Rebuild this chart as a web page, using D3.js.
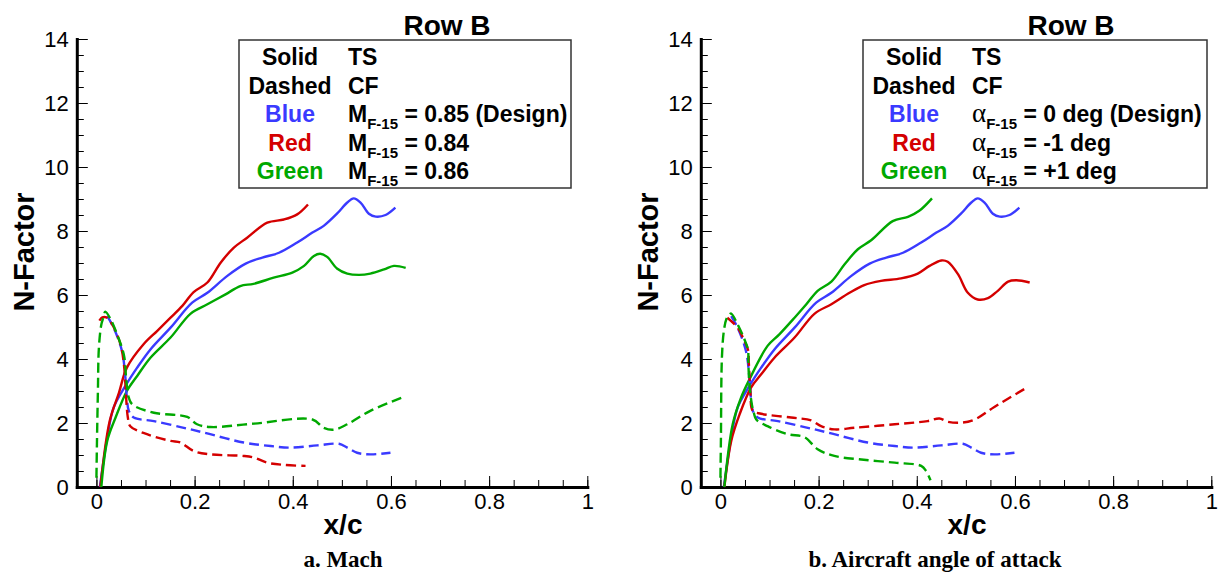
<!DOCTYPE html>
<html>
<head>
<meta charset="utf-8">
<script src="https://cdn.jsdelivr.net/npm/d3@7"></script>
<style>
    body { margin: 0; background: #fff; }
    svg text { font-family: "Liberation Sans", Arial, Helvetica, sans-serif; }
    .axis .domain { stroke: #000; stroke-width: 3; }
    .axis .major line { stroke: #000; stroke-width: 3; }
    .axis .minor line { stroke: #000; stroke-width: 1.5; }
    .axis text { font-size: 22px; fill: #000; }
</style>
</head>
<body>
<div id="chart"></div>
<script>
// tick values
var xMajor = [0, 0.2, 0.4, 0.6, 0.8, 1];
var xLabels = ["0", "0.2", "0.4", "0.6", "0.8", "1"];
var xMinor = d3.range(0, 1.001, 0.05);
var yMajor = [0, 2, 4, 6, 8, 10, 12, 14];
var yMinor = d3.range(0, 14.01, 0.5);

var colors = { blue: "#3a3aff", red: "#d40000", green: "#00a800" };

// design case, shared by both panels: [x/c, N]
var designTS = [[0.007, 0], [0.022, 1.54], [0.035, 2.48], [0.059, 3.16], [0.083, 3.73], [0.11, 4.3],
    [0.151, 4.98], [0.195, 5.76], [0.226, 6.07], [0.266, 6.59], [0.304, 6.98], [0.338, 7.17],
    [0.372, 7.32], [0.409, 7.64], [0.44, 7.95], [0.463, 8.16], [0.49, 8.54], [0.511, 8.89],
    [0.524, 9.02], [0.538, 8.89], [0.555, 8.54], [0.569, 8.45], [0.589, 8.5], [0.609, 8.73]];
var designCF = [[0.022, 5.34], [0.035, 4.98], [0.052, 4.25], [0.059, 3.42], [0.062, 2.79], [0.066, 2.38],
    [0.076, 2.17], [0.117, 2.06], [0.178, 1.85], [0.219, 1.7], [0.3, 1.39], [0.355, 1.28],
    [0.395, 1.23], [0.45, 1.3], [0.494, 1.35], [0.511, 1.23], [0.531, 1.07], [0.558, 1.02], [0.599, 1.07]];

// panel a: Mach 0.84 (red) and 0.86 (green)
var mach084TS = [[0.008, 0], [0.027, 2.06], [0.046, 2.95], [0.062, 3.73], [0.096, 4.46], [0.124, 4.88],
    [0.151, 5.29], [0.175, 5.66], [0.198, 6.09], [0.226, 6.39], [0.253, 7.01], [0.28, 7.48],
    [0.307, 7.79], [0.348, 8.26], [0.382, 8.36], [0.409, 8.52], [0.431, 8.83]];
var mach084CF = [[0.006, 5.2], [0.012, 5.3], [0.02, 5.3], [0.032, 5.08], [0.049, 4.46], [0.056, 3.83], [0.059, 3.21],
    [0.064, 2.17], [0.069, 1.9], [0.103, 1.65], [0.151, 1.44], [0.171, 1.39], [0.198, 1.125],
    [0.232, 1.02], [0.3, 0.97], [0.321, 0.92], [0.348, 0.76], [0.382, 0.69], [0.426, 0.66]];
var mach086TS = [[0.01, 0], [0.022, 1.44], [0.039, 2.17], [0.062, 3.0], [0.083, 3.47], [0.11, 4.04],
    [0.151, 4.67], [0.192, 5.42], [0.226, 5.71], [0.263, 6.02], [0.293, 6.28], [0.32, 6.35],
    [0.361, 6.54], [0.399, 6.7], [0.423, 6.91], [0.443, 7.22], [0.456, 7.29], [0.47, 7.19],
    [0.49, 6.83], [0.511, 6.67], [0.535, 6.63], [0.558, 6.67], [0.586, 6.8], [0.606, 6.91], [0.63, 6.85]];
var mach086CF = [[0, 0.29], [0.001, 1.33], [0.003, 3.0], [0.005, 4.35], [0.01, 5.08], [0.014, 5.29],
    [0.018, 5.48], [0.029, 5.24], [0.042, 4.77], [0.052, 4.35], [0.057, 4.04], [0.061, 3.31],
    [0.066, 2.79], [0.073, 2.58], [0.117, 2.32], [0.185, 2.19], [0.205, 1.96], [0.232, 1.875],
    [0.321, 1.98], [0.44, 2.11], [0.463, 1.85], [0.484, 1.79], [0.511, 1.96], [0.558, 2.38], [0.63, 2.84]];

// panel b: alpha -1 deg (red) and +1 deg (green)
var aoaM1TS = [[0.008, 0], [0.022, 1.44], [0.039, 2.27], [0.062, 3.1], [0.083, 3.52], [0.11, 4.04],
    [0.151, 4.67], [0.192, 5.42], [0.226, 5.71], [0.263, 6.07], [0.293, 6.31], [0.327, 6.44],
    [0.368, 6.52], [0.402, 6.67], [0.426, 6.91], [0.45, 7.08], [0.463, 7.04], [0.484, 6.65],
    [0.504, 6.07], [0.524, 5.86], [0.545, 5.9], [0.565, 6.13], [0.586, 6.42], [0.603, 6.46], [0.63, 6.39]];
var aoaM1CF = [[0.014, 5.29], [0.035, 4.98], [0.049, 4.56], [0.056, 4.3], [0.058, 3.83], [0.061, 3.0],
    [0.066, 2.38], [0.083, 2.29], [0.144, 2.17], [0.185, 2.08], [0.205, 1.9], [0.232, 1.8],
    [0.273, 1.85], [0.355, 1.96], [0.422, 2.06], [0.446, 2.14], [0.463, 2.04], [0.49, 2.01],
    [0.518, 2.11], [0.558, 2.5], [0.62, 3.07]];
var aoaP1TS = [[0.008, 0], [0.025, 1.96], [0.042, 2.79], [0.059, 3.36], [0.096, 4.41], [0.12, 4.77],
    [0.151, 5.29], [0.175, 5.71], [0.198, 6.13], [0.226, 6.42], [0.253, 6.96], [0.28, 7.43],
    [0.307, 7.71], [0.351, 8.31], [0.382, 8.44], [0.405, 8.63], [0.431, 9.02]];
var aoaP1CF = [[0, 0.29], [0.001, 1.5], [0.003, 4.04], [0.007, 4.88], [0.012, 5.24], [0.018, 5.38],
    [0.022, 5.42], [0.035, 5.08], [0.049, 4.61], [0.056, 4.3], [0.057, 3.83], [0.059, 3.21],
    [0.064, 2.58], [0.068, 2.32], [0.073, 2.11], [0.096, 1.9], [0.137, 1.65], [0.171, 1.56],
    [0.198, 1.18], [0.232, 0.97], [0.287, 0.86], [0.355, 0.76], [0.409, 0.66], [0.419, 0.5], [0.428, 0.21]];

var legendKeys = ["Solid", "Dashed", "Blue", "Red", "Green"];
var legendKeyColors = ["#000", "#000", colors.blue, colors.red, colors.green];
var machValues = [" = 0.85 (Design)", " = 0.84", " = 0.86"];
var aoaValues = [" = 0 deg (Design)", " = -1 deg", " = +1 deg"];

var panels = [
    { dx: 0, boxW: 332, symbol: "M", values: machValues, caption: "a. Mach", captionX: 343,
      series: [[designTS, "blue", false], [mach084TS, "red", false], [mach086TS, "green", false],
               [designCF, "blue", true], [mach084CF, "red", true], [mach086CF, "green", true]] },
    { dx: 624, boxW: 344, symbol: "α", values: aoaValues, caption: "b. Aircraft angle of attack", captionX: 935,
      series: [[designTS, "blue", false], [aoaM1TS, "red", false], [aoaP1TS, "green", false],
               [designCF, "blue", true], [aoaM1CF, "red", true], [aoaP1CF, "green", true]] }
];

var svg = d3.select("#chart").append("svg")
    .attr("width", 1220)
    .attr("height", 574);

panels.forEach(drawPanel);

function drawPanel(p) {
    var g = svg.append("g").attr("transform", "translate(" + p.dx + ",0)");

    var x = d3.scaleLinear().domain([-0.04, 1]).range([76.8, 587.3]);
    var y = d3.scaleLinear().domain([0, 14]).range([487, 39]);

    // minor ticks first, then major with the axis line
    g.append("g")
        .attr("class", "axis minor")
        .attr("transform", "translate(0,487)")
        .call(d3.axisBottom(x).tickValues(xMinor).tickSize(-7).tickFormat(""))
        .select(".domain").remove();
    g.append("g")
        .attr("class", "axis minor")
        .attr("transform", "translate(76.8,0)")
        .call(d3.axisLeft(y).tickValues(yMinor).tickSize(-7).tickFormat(""))
        .select(".domain").remove();

    g.append("g")
        .attr("class", "axis major")
        .attr("transform", "translate(0,487)")
        .call(d3.axisBottom(x).tickValues(xMajor).tickSizeInner(-11).tickSizeOuter(0).tickPadding(6)
            .tickFormat((d, i) => xLabels[i]));
    g.append("g")
        .attr("class", "axis major")
        .attr("transform", "translate(76.8,0)")
        .call(d3.axisLeft(y).tickValues(yMajor).tickSizeInner(-11).tickSizeOuter(0).tickPadding(8));

    g.selectAll(".axis .domain").attr("stroke-linecap", "square");

    var line = d3.line()
        .x(d => x(d[0]))
        .y(d => y(d[1]))
        .curve(d3.curveCatmullRom.alpha(0.5));

    g.selectAll(".curve")
        .data(p.series)
        .enter()
        .append("path")
            .attr("class", "curve")
            .attr("d", d => line(d[0]))
            .attr("fill", "none")
            .attr("stroke", d => colors[d[1]])
            .attr("stroke-width", 2.4)
            .attr("stroke-dasharray", d => d[2] ? "10,5" : null);

    // titles
    g.append("text")
        .text("N-Factor")
        .attr("transform", "translate(33.5,252) rotate(-90)")
        .attr("text-anchor", "middle")
        .style("font-weight", "bold")
        .style("font-size", "29px");

    g.append("text")
        .text("x/c")
        .attr("x", 343)
        .attr("y", 534)
        .attr("text-anchor", "middle")
        .style("font-weight", "bold")
        .style("font-size", "28px");

    g.append("text")
        .text("Row B")
        .attr("x", 447)
        .attr("y", 35)
        .attr("text-anchor", "middle")
        .style("font-weight", "bold")
        .style("font-size", "28px");

    svg.append("text")
        .text(p.caption)
        .attr("x", p.captionX)
        .attr("y", 567)
        .attr("text-anchor", "middle")
        .style("font-family", "'Liberation Serif', 'Times New Roman', serif")
        .style("font-weight", "bold")
        .style("font-size", "23px");

    // legend box
    var leg = g.append("g").attr("class", "legend");
    leg.append("rect")
        .attr("x", 239)
        .attr("y", 40)
        .attr("width", p.boxW)
        .attr("height", 148)
        .attr("fill", "#fff")
        .attr("stroke", "#333")
        .attr("stroke-width", 1.5);

    var rowY = d3.scaleLinear().domain([0, 4]).range([65, 179]);

    leg.selectAll(".key")
        .data(legendKeys)
        .enter()
        .append("text")
            .attr("class", "key")
            .text(d => d)
            .attr("x", 290)
            .attr("y", (d, i) => rowY(i))
            .attr("text-anchor", "middle")
            .style("font-weight", "bold")
            .style("font-size", "23px")
            .style("fill", (d, i) => legendKeyColors[i]);

    leg.append("text").text("TS").attr("x", 348).attr("y", rowY(0))
        .style("font-weight", "bold").style("font-size", "23px");
    leg.append("text").text("CF").attr("x", 348).attr("y", rowY(1))
        .style("font-weight", "bold").style("font-size", "23px");

    p.values.forEach(function (v, i) {
        var t = leg.append("text")
            .attr("x", 348)
            .attr("y", rowY(i + 2))
            .style("font-weight", "bold")
            .style("font-size", "23px");
        if (p.symbol === "α") {
            t.append("tspan").text("α")
                .style("font-family", "'Liberation Serif', serif")
                .style("font-weight", "normal")
                .style("font-size", "27px");
        } else {
            t.append("tspan").text("M");
        }
        t.append("tspan").text("F-15").attr("dy", 7).style("font-size", "15px");
        t.append("tspan").text(v).attr("dy", -7);
    });
}
</script>
</body>
</html>
